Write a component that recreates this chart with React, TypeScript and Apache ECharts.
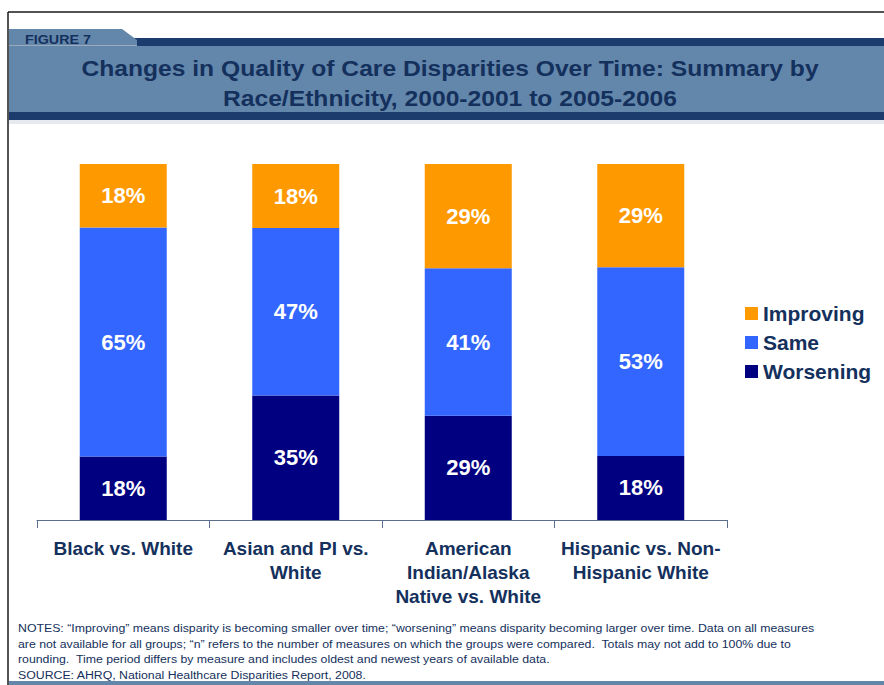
import React, { useEffect, useRef } from "react";
import * as echarts from "echarts";

const categories = [
  "Black vs. White",
  "Asian and PI vs.\nWhite",
  "American\nIndian/Alaska\nNative vs. White",
  "Hispanic vs. Non-\nHispanic White",
];
const worsening = [18, 35, 29, 18];
const same = [65, 47, 41, 53];
const improving = [18, 18, 29, 29];

const titleLines = [
  "Changes in Quality of Care Disparities Over Time: Summary by",
  "Race/Ethnicity, 2000-2001 to 2005-2006",
];
const notes = [
  "NOTES: \u201cImproving\u201d means disparity is becoming smaller over time; \u201cworsening\u201d means disparity becoming larger over time. Data on all measures",
  "are not available for all groups; \u201cn\u201d refers to the number of measures on which the groups were compared.  Totals may not add to 100% due to",
  "rounding.  Time period differs by measure and includes oldest and newest years of available data.",
  "SOURCE: AHRQ, National Healthcare Disparities Report, 2008.",
];

const FONT = "'Liberation Sans', Arial, sans-serif";
const NAVY_TEXT = "#14305c";
const BAND = "#6386ab";
const STRIPE = "#1b3c6c";

export default function App() {
  const ref = useRef<HTMLDivElement>(null);
  useEffect(() => {
    if (!ref.current) return;
    const chart = echarts.init(ref.current, null, { renderer: "svg" });
    const totals = categories.map((_, i) => worsening[i] + same[i] + improving[i]);
    const mk = (name: string, vals: number[], color: string) => ({
      name,
      type: "bar",
      stack: "total",
      barWidth: 87,
      itemStyle: { color },
      data: vals.map((v, i) => (v / totals[i]) * 100),
      label: {
        show: true,
        position: "inside",
        color: "#ffffff",
        fontFamily: FONT,
        fontWeight: "bold",
        fontSize: 22,
        formatter: (p: any) => `${vals[p.dataIndex]}%`,
      },
    });
    chart.setOption({
      animation: false,
      grid: { left: 37, right: 157, top: 164, bottom: 165 },
      legend: {
        orient: "vertical",
        left: 740,
        top: 298,
        itemWidth: 13,
        itemHeight: 13,
        itemGap: 8,
        icon: "rect",
        data: ["Improving", "Same", "Worsening"],
        textStyle: { fontFamily: FONT, fontWeight: "bold", fontSize: 21, color: NAVY_TEXT },
      },
      xAxis: {
        type: "category",
        data: categories,
        axisLine: { lineStyle: { color: "#5a6e8c", width: 1 } },
        axisTick: { show: true, length: 8, lineStyle: { color: "#5a6e8c" } },
        axisLabel: {
          interval: 0,
          margin: 16,
          fontFamily: FONT,
          fontWeight: "bold",
          fontSize: 19,
          lineHeight: 24,
          color: NAVY_TEXT,
        },
      },
      yAxis: { type: "value", min: 0, max: 100, show: false, splitLine: { show: false } },
      series: [
        mk("Worsening", worsening, "#000080"),
        mk("Same", same, "#3366ff"),
        mk("Improving", improving, "#ff9900"),
      ],
      graphic: [
        // frame
        { type: "line", shape: { x1: 8, y1: 12, x2: 884, y2: 12 }, style: { stroke: "#1a1a1a", lineWidth: 1.5 } },
        { type: "line", shape: { x1: 8, y1: 12, x2: 8, y2: 685 }, style: { stroke: "#1a1a1a", lineWidth: 1.5 } },
        // header band
        { type: "rect", shape: { x: 9, y: 120, width: 875, height: 4 }, style: { fill: "#e6e9ee" } },
        { type: "rect", shape: { x: 9, y: 38, width: 875, height: 82 }, style: { fill: STRIPE } },
        { type: "rect", shape: { x: 9, y: 46, width: 875, height: 66 }, style: { fill: BAND } },
        { type: "polygon", shape: { points: [[9, 29], [122, 29], [137, 40], [137, 46], [9, 46]] }, style: { fill: BAND } },
        { type: "line", shape: { x1: 9, y1: 45.5, x2: 137, y2: 45.5 }, style: { stroke: "#9aaabb", lineWidth: 1 } },
        {
          type: "text",
          x: 25,
          y: 40,
          scaleX: 1.1,
          style: { text: "FIGURE 7", font: `bold 13px ${FONT}`, fill: NAVY_TEXT, verticalAlign: "middle" },
        },
        {
          type: "text",
          x: 450,
          y: 68,
          scaleX: 1.12,
          style: { text: titleLines[0], font: `bold 22px ${FONT}`, fill: NAVY_TEXT, align: "center", verticalAlign: "middle" },
        },
        {
          type: "text",
          x: 450,
          y: 98,
          scaleX: 1.12,
          style: { text: titleLines[1], font: `bold 22px ${FONT}`, fill: NAVY_TEXT, align: "center", verticalAlign: "middle" },
        },
        // notes
        ...notes.map((t, i) => ({
          type: "text",
          x: 18,
          y: 628 + i * 15.5,
          scaleX: 1.12,
          style: { text: t, font: `11px ${FONT}`, fill: NAVY_TEXT, verticalAlign: "middle" },
        })),
        { type: "rect", shape: { x: 9, y: 681, width: 875, height: 4 }, style: { fill: BAND } },
      ],
    });
    return () => chart.dispose();
  }, []);
  return (
    <div
      ref={ref}
      style={{ position: "fixed", left: 0, top: 0, width: 884, height: 685, background: "#ffffff" }}
    />
  );
}
